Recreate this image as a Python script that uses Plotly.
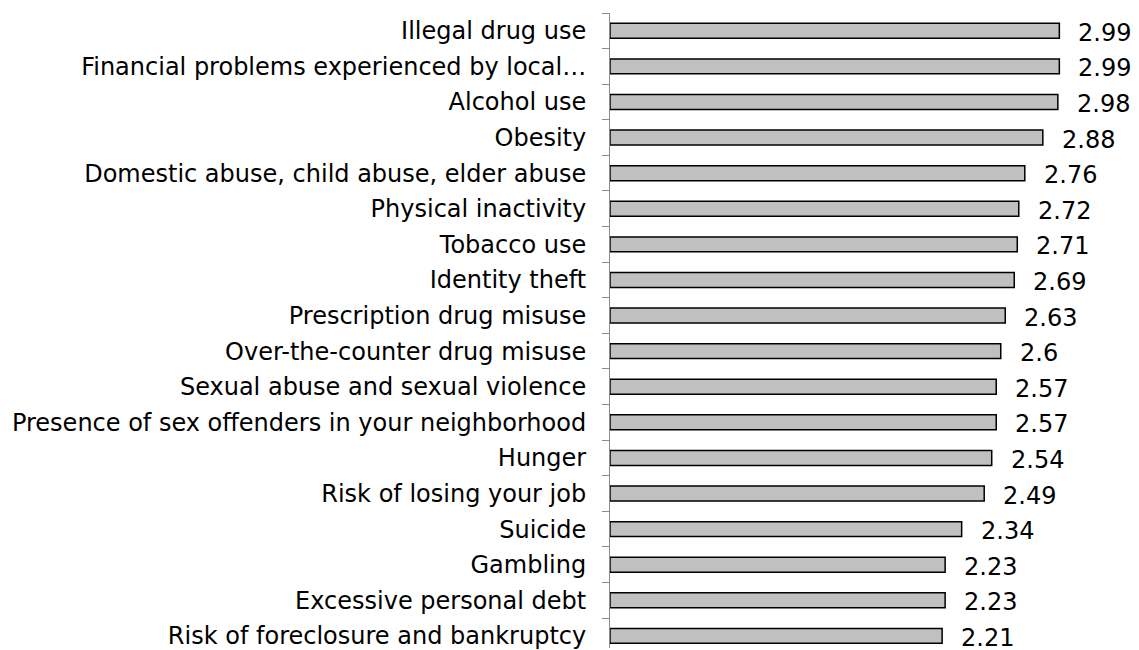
import plotly.graph_objects as go

categories = [
    "Illegal drug use",
    "Financial problems experienced by local…",
    "Alcohol use",
    "Obesity",
    "Domestic abuse, child abuse, elder abuse",
    "Physical inactivity",
    "Tobacco use",
    "Identity theft",
    "Prescription drug misuse",
    "Over-the-counter drug misuse",
    "Sexual abuse and sexual violence",
    "Presence of sex offenders in your neighborhood",
    "Hunger",
    "Risk of losing your job",
    "Suicide",
    "Gambling",
    "Excessive personal debt",
    "Risk of foreclosure and bankruptcy",
]
values = [2.99, 2.99, 2.98, 2.88, 2.76, 2.72, 2.71, 2.69, 2.63, 2.6,
          2.57, 2.57, 2.54, 2.49, 2.34, 2.23, 2.23, 2.21]

FONT = "DejaVu Sans"

fig = go.Figure()
fig.add_trace(go.Bar(
    x=values, y=categories, orientation="h", width=0.42,
    marker=dict(color="#c0c0c0", line=dict(color="black", width=1.5)),
    hoverinfo="x+y",
))

# value labels to the right of each bar
for c, v in zip(categories, values):
    fig.add_annotation(x=v, y=c, text=f"{v:g}", showarrow=False,
                       xanchor="left", xshift=17, yshift=-2,
                       font=dict(family=FONT, size=24, color="black"))

# page body has an 8px margin, so the figure is a bit smaller than the window
fig.update_layout(
    width=1131, height=642,
    margin=dict(l=602, r=0, t=5, b=0),
    plot_bgcolor="white", paper_bgcolor="white",
    showlegend=False,
    font=dict(family=FONT, size=24, color="black"),
    xaxis=dict(range=[0, 3.52], visible=False, fixedrange=True),
    yaxis=dict(range=[17.34, -0.5], type="category",
               showline=True, linecolor="#8c8c8c", linewidth=1,
               ticks="outside", tickson="boundaries", ticklen=7,
               tickcolor="#8c8c8c", ticklabelstandoff=18,
               showgrid=False, zeroline=False,
               tickfont=dict(family=FONT, size=24, color="black")),
)

fig.write_html("out.html")
